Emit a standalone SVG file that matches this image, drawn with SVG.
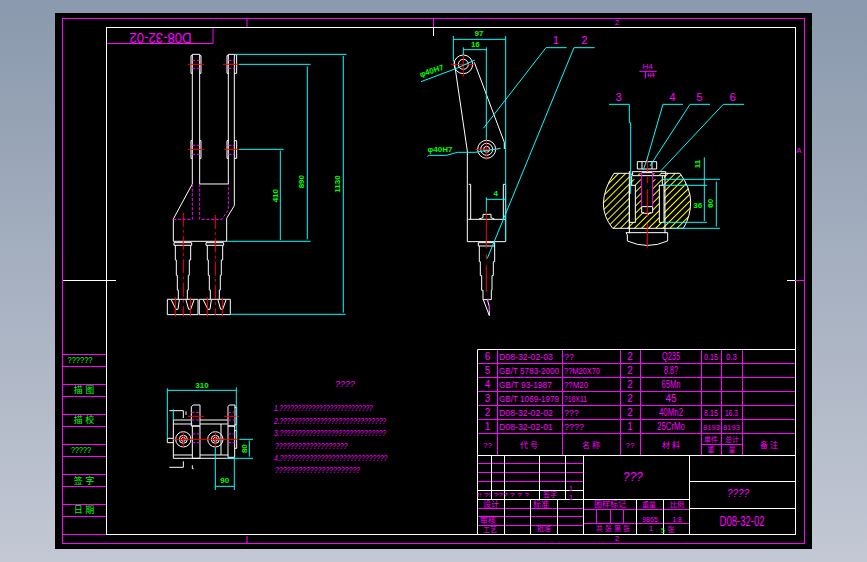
<svg xmlns="http://www.w3.org/2000/svg" width="867" height="562" viewBox="0 0 867 562">
<style>
.w{fill:none;stroke:#fff;stroke-width:1}
.m{fill:none;stroke:#f0f;stroke-width:1}
.zw{fill:none;stroke:#fff;stroke-width:3}
.zm{fill:none;stroke:#f0f;stroke-width:3}
.zd{fill:none;stroke:#f0f;stroke-width:3;stroke-dasharray:9 5}
.zc{fill:none;stroke:#0ff;stroke-width:3}
.zr{fill:none;stroke:#f00;stroke-width:3}
.zrd{fill:none;stroke:#f00;stroke-width:3;stroke-dasharray:42 10 8 10}
.t{font-family:"Liberation Sans","Noto Sans CJK SC",sans-serif;font-size:10px;fill:#f0f;text-anchor:middle}
.s{font-family:"Liberation Sans","Noto Sans CJK SC",sans-serif;font-size:9px;fill:#f0f;text-anchor:start}
.h{font-family:"Liberation Sans","Noto Sans CJK SC",sans-serif;font-size:8px;fill:#f0f;text-anchor:middle}
.g{font-family:"Liberation Sans","Noto Sans CJK SC",sans-serif;font-size:9px;fill:#0f0;text-anchor:middle}
.zt{font-family:"Liberation Sans","Noto Sans CJK SC",sans-serif;font-size:34px;fill:#f0f;text-anchor:middle}
.zg{font-family:"Liberation Sans","Noto Sans CJK SC",sans-serif;font-size:24px;font-weight:bold;fill:#0f0;text-anchor:middle}
.zl{font-family:"Liberation Sans",sans-serif;font-size:25px;font-style:italic;fill:#f0f}
</style>
<defs>
<linearGradient id="bg" x1="0" y1="0" x2="0" y2="1"><stop offset="0" stop-color="#8a99ad"/><stop offset="1" stop-color="#c3c8d4"/></linearGradient>
<pattern id="hatch" width="15" height="15" patternUnits="userSpaceOnUse" patternTransform="rotate(-45)"><rect width="15" height="15" fill="#000"/><rect y="0" width="15" height="3" fill="#ff0"/></pattern>
<g id="pick">
<path class="zw" d="M132 668H185V676H132ZM136 676V720H139V766H142V810H145V838M182 676V720H178V766H175V810H172V838"/>
<path class="zw" d="M124 840L138 868H144L148 840M168 840L176 868H182L192 840"/>
</g>
</defs>
<rect width="867" height="562" fill="url(#bg)"/>
<rect x="55" y="13" width="757" height="536" fill="#000"/>

<g id="frame">
<rect class="m" x="62.5" y="18.5" width="742" height="525"/>
<rect class="w" x="106.5" y="27.5" width="689" height="507"/>
<path class="m" d="M433.5 19V27M247 19V27M247 536V543M787 280.5H804"/>
<path class="w" d="M433.5 28V36M787 280.5H795M63 280.5H116"/>
<path class="m" d="M63 354.5H106M63 366.5H106M63 384.5H106M63 396.5H106M63 414.5H106M63 426.5H106M63 444.5H106M63 456.5H106M63 474.5H106M63 486.5H106M63 504.5H106M63 516.5H106M63 534.5H106"/>
<text class="h" x="617" y="25">2</text>
<text class="h" x="617" y="541">2</text>
<text class="h" x="799" y="153">A</text>
</g>

<g id="side-labels">
<text class="g" x="80" y="363" textLength="25" lengthAdjust="spacingAndGlyphs">??????</text>
<text class="g" x="84" y="393">描 图</text>
<text class="g" x="84" y="423">描 校</text>
<text class="g" x="81" y="453" textLength="20" lengthAdjust="spacingAndGlyphs">?????</text>
<text class="g" x="84" y="484">签 字</text>
<text class="g" x="84" y="513">日 期</text>
</g>

<g id="drawing-code">
<path class="m" d="M213 28V43.500H107"/>
<text transform="rotate(180 160.500 38.500)" x="160.500" y="44" class="t" style="font-size:15px" textLength="62" lengthAdjust="spacingAndGlyphs">D08-32-02</text>
</g>

<g id="front-view" transform="translate(130 20) scale(.3333)">
<path class="zw" d="M187 492V103H209V492M295 492V103H313V557L290 595V664H130V597L187 492M209 492H295"/>
<path class="zw" d="M187 107H183V160H187M209 107H213V160H209M295 107H291V160H295M313 104H320V160H313M187 362H183V415H187M209 362H213V415H209M295 362H291V415H295M313 362H320V415H313"/>
<path class="zd" d="M187 492V598H130M209 492V598H275L295 570V492M187 121H209M187 145H209M295 121H313M295 145H313M187 376H209M187 403H209M295 376H313M295 403H313"/>
<path class="zr" d="M174 133H222M279 133H327M174 388H222M282 388H327"/>
<use href="#pick"/>
<use href="#pick" x="96"/>
<path class="zw" d="M112 838H204V884H112ZM208 838H301V884H208Z"/>
<path class="zrd" d="M160 578V890M256 585V885"/>
<path class="zr" d="M136 832V890M181 832V890M232 832V890M277 832V890"/>
<path class="zc" d="M316 103H650M327 133H542M327 388H461M290 664H542M300 883H647M640 108V878M532 140V658M451 392V660"/>
<text class="zg" transform="rotate(-90 435 527)" x="435" y="535">410</text>
<text class="zg" transform="rotate(-90 515 485)" x="515" y="493">890</text>
<text class="zg" transform="rotate(-90 622 492)" x="622" y="500">1130</text>
</g>

<g id="side-view" transform="translate(410 25) scale(.3333)">
<path class="zw" d="M133 112L172 378V650H287V580M193 112L283 352V372M175 583H287M176 478H182V583M280 583V478H287V580M207 582L219 578V568H243V578L253 582"/>
<circle class="zw" cx="160" cy="118" r="28"/><circle class="zw" cx="160" cy="118" r="15"/>
<circle class="zw" cx="230" cy="373" r="27"/><circle class="zw" cx="230" cy="373" r="18"/><circle class="zw" cx="230" cy="373" r="9"/>
<path class="zw" d="M205 653H254V663H205ZM208 663V710H211V752H215V796H219V824H244V796H246V752H250V710H254V663M220 824L238 872V845L232 824"/>
<path class="zr" d="M123 118H195M160 82V155M196 373H265M229 343V405M229 558V670M229 688V703M229 720V800"/>
<path class="zm" d="M234 820V832M238 840V858"/>
<path class="zc" d="M130 33V110M287 33V650M130 43H287M160 67V90M229 67V345M160 74H229M229 517V560M229 523H285M33 170L140 130L195 105M52 394L58 391H110L142 382H195L272 370M220 310L408 68H470M232 700L492 68H554"/>
<text class="zg" x="207" y="32">97</text>
<text class="zg" x="196" y="65">16</text>
<text class="zg" x="257" y="514">4</text>
<text class="zg" transform="rotate(-18 65 138)" x="65" y="146">φ40H7</text>
<text class="zg" x="90" y="380">φ40H7</text>
<text class="zt" x="438" y="56">1</text>
<text class="zt" x="523" y="56">2</text>
</g>

<g id="section-view" transform="translate(590 60) scale(.3333)">
<path d="M72 340H270Q302 385 302 425Q302 470 280 505H68Q40 470 40 430Q42 385 72 340Z" fill="url(#hatch)"/>
<path class="zw" d="M72 340H118M213 340H270Q302 385 302 425Q302 470 280 505H68Q40 470 40 430Q42 385 72 340"/>
<rect x="118" y="376" width="18" height="111" fill="#000" stroke="#fff" stroke-width="3"/>
<rect x="208" y="376" width="14" height="111" fill="#000" stroke="#fff" stroke-width="3"/>
<rect x="155" y="338" width="33" height="118" fill="#000"/>
<rect x="118" y="345" width="104" height="13" fill="#000"/>
<path class="zw" d="M142 305H200V327H142ZM156 305V327M186 305V327M127 335H227V347H127ZM118 333V520M225 347V520M125 347V375M217 347V376M155 338H188M155 440H188V458L180 460H163L155 458Z"/>
<path class="zm" d="M155 335V440M188 335V440"/>
<path class="zw" d="M108 518H233V543Q172 570 112 543V525Z"/>
<path class="zr" d="M172 290V335M172 350V370M172 388V470M172 490V563"/>
<path class="zc" d="M57 133H118V188H122V402M279 133H219L172 295L160 330M360 133H300L180 318M462 133H400L212 333M343 292V483M217 358H390M217 376H351M217 487H351M247 505H390M379 365V500"/>
<text class="zg" transform="rotate(-90 323 312)" x="323" y="320">11</text>
<text class="zg" x="323" y="444">36</text>
<text class="zg" transform="rotate(-90 361 430)" x="361" y="438">60</text>
<text class="zt" x="86" y="122">3</text>
<text class="zt" x="247" y="122">4</text>
<text class="zt" x="328" y="122">5</text>
<text class="zt" x="428" y="122">6</text>
<path class="zm" d="M148 34H200M166 34V56"/>
<text class="zt" x="173" y="26" style="font-size:24px">H4</text>
<text class="zt" x="183" y="51" style="font-size:16px;font-weight:bold">H4</text>
</g>

<g id="plan-view" transform="translate(150 370) scale(.3333)">
<path class="zw" d="M70 150V265H255M70 150H124M70 162H127M150 150H233M150 162H233M70 255H127M150 255H235M213 162V255"/>
<path class="zw" d="M124 110L130 105H150V168H124ZM127 168H150V265H127ZM234 110L238 105H255V168H234ZM234 168H254V262H234ZM254 112H260V164H254M254 182H260V235H254"/>
<path class="zw" d="M58 122H100V144M108 124V135M52 205V218H70M52 205H70M58 292H100V274M127 286V296H131"/>
<circle class="zw" cx="100" cy="208" r="23"/><circle class="zw" cx="100" cy="208" r="12"/><circle class="zw" cx="100" cy="208" r="6"/>
<circle class="zw" cx="196" cy="208" r="23"/><circle class="zw" cx="196" cy="208" r="12"/><circle class="zw" cx="196" cy="208" r="6"/>
<path class="zd" d="M124 127H150M124 150H150M127 192H150M127 218H150M234 127H254M234 150H254M234 192H254M234 218H254"/>
<path class="zr" d="M114 139H162M222 139H268M70 208H265M100 185V232M196 185V232"/>
<path class="zc" d="M52 55V205M259 52V205M52 61H259M70 118V150M196 232V360M253 262V360M196 349H253M268 208H309M228 265H309M298 212V260"/>
<text class="zg" x="156" y="53">310</text>
<text class="zg" x="224" y="339">90</text>
<text class="zg" transform="rotate(-90 282 236)" x="282" y="244">80</text>
<text class="zl" x="555" y="52" textLength="60" lengthAdjust="spacingAndGlyphs">????</text>
<text class="zl" x="372" y="124" textLength="296" lengthAdjust="spacingAndGlyphs">1.??????????????????????????</text>
<text class="zl" x="372" y="161" textLength="336" lengthAdjust="spacingAndGlyphs">2.?????????????????????????????</text>
<text class="zl" x="372" y="199" textLength="336" lengthAdjust="spacingAndGlyphs">3.?????????????????????????????</text>
<text class="zl" x="375" y="237" textLength="217" lengthAdjust="spacingAndGlyphs">???????????????????</text>
<text class="zl" x="372" y="272" textLength="340" lengthAdjust="spacingAndGlyphs">4.?????????????????????????????</text>
<text class="zl" x="375" y="310" textLength="255" lengthAdjust="spacingAndGlyphs">??????????????????????</text>
</g>

<g id="parts-list">
<path class="w" d="M477.500 349.500H795.500M477.500 349.500V455.500"/>
<path class="m" d="M478 363.500H795M478 377.500H795M478 391.500H795M478 405.500H795M478 419.500H795M478 433.500H795M497.500 350V455M562.500 350V455M620.500 350V455M640.500 350V455M701.500 350V455M721.500 350V455M742.500 350V455M701.500 444.500H742.500"/>
<text class="t" x="487.500" y="360">6</text><text class="s" x="499" y="360" textLength="54" lengthAdjust="spacingAndGlyphs">D08-32-02-03</text><text class="s" x="564" y="360">??</text><text class="t" x="630" y="360">2</text><text class="t" x="671" y="360" textLength="18" lengthAdjust="spacingAndGlyphs">Q235</text><text class="s" x="704" y="360" textLength="14" lengthAdjust="spacingAndGlyphs">0.15</text><text class="s" x="726" y="360" textLength="11" lengthAdjust="spacingAndGlyphs">0.3</text>
<text class="t" x="487.500" y="374">5</text><text class="s" x="499" y="374" textLength="60" lengthAdjust="spacingAndGlyphs">GB/T 5783-2000</text><text class="s" x="564" y="374" textLength="36" lengthAdjust="spacingAndGlyphs">??M20X70</text><text class="t" x="630" y="374">2</text><text class="t" x="671" y="374" textLength="14" lengthAdjust="spacingAndGlyphs">8.8?</text>
<text class="t" x="487.500" y="388">4</text><text class="s" x="499" y="388" textLength="53" lengthAdjust="spacingAndGlyphs">GB/T 93-1987</text><text class="s" x="564" y="388" textLength="24" lengthAdjust="spacingAndGlyphs">??M20</text><text class="t" x="630" y="388">2</text><text class="t" x="671" y="388" textLength="19" lengthAdjust="spacingAndGlyphs">65Mn</text>
<text class="t" x="487.500" y="402">3</text><text class="s" x="499" y="402" textLength="60" lengthAdjust="spacingAndGlyphs">GB/T 1069-1979</text><text class="s" x="564" y="402" textLength="23" lengthAdjust="spacingAndGlyphs">?18X11</text><text class="t" x="630" y="402">2</text><text class="t" x="671" y="402">45</text>
<text class="t" x="487.500" y="416">2</text><text class="s" x="499" y="416" textLength="54" lengthAdjust="spacingAndGlyphs">D08-32-02-02</text><text class="s" x="564" y="416">???</text><text class="t" x="630" y="416">2</text><text class="t" x="671" y="416" textLength="24" lengthAdjust="spacingAndGlyphs">40Mn2</text><text class="s" x="704" y="416" textLength="14" lengthAdjust="spacingAndGlyphs">8.15</text><text class="s" x="725" y="416" textLength="13" lengthAdjust="spacingAndGlyphs">16.3</text>
<text class="t" x="487.500" y="430">1</text><text class="s" x="499" y="430" textLength="54" lengthAdjust="spacingAndGlyphs">D08-32-02-01</text><text class="s" x="564" y="430">????</text><text class="t" x="630" y="430">1</text><text class="t" x="671" y="430" textLength="28" lengthAdjust="spacingAndGlyphs">25CrMo</text><text class="s" x="703" y="430" style="font-size:8px" textLength="17" lengthAdjust="spacingAndGlyphs">8193</text><text class="s" x="723" y="430" style="font-size:8px" textLength="17" lengthAdjust="spacingAndGlyphs">8193</text>
<text class="h" x="487.500" y="448">??</text><text class="h" x="529" y="448">代   号</text><text class="h" x="591" y="448">名   称</text><text class="h" x="630" y="448">??</text><text class="h" x="671" y="448">材   料</text><text class="h" x="711" y="442" style="font-size:7px">单件</text><text class="h" x="732" y="442" style="font-size:7px">总计</text><text class="h" x="711" y="452" style="font-size:7px">重</text><text class="h" x="732" y="452" style="font-size:7px">量</text><text class="h" x="769" y="448">备   注</text>
</g>

<g id="title-block">
<path class="m" d="M478 463.500H583M478 472.500H583M478 481.500H583M478 508.500H583M478 516.500H583M478 525.500H583M584 509.500H689M584 523.500H689M596.500 510V523M610.500 510V523M623.500 510V523"/>
<path class="w" d="M477.500 455.500H795.500M477.500 455.500V534M491.500 456V499M504.500 456V534M539.500 456V499M530.500 499V534M557.500 499V534M565.500 456V499M583.500 456V534M689.500 456V534M636.500 499V534M663.500 499V534M477.500 490.500H583M477.500 499.500H689M689.500 481.500H796M689.500 508.500H796"/>
<text class="t" x="633" y="481" style="font-size:12px;font-style:italic">???</text>
<text class="t" x="738" y="497" style="font-size:10px;font-style:italic">????</text>
<text class="t" x="742" y="526" style="font-size:14px" textLength="45" lengthAdjust="spacingAndGlyphs">D08-32-02</text>
<text class="t" x="503" y="497" style="font-size:6px" textLength="52" lengthAdjust="spacingAndGlyphs">!! ?! ??? ? ? ?</text>
<text class="t" x="550" y="497" style="font-size:7px">签字</text>
<text class="t" x="491" y="507" style="font-size:8px">设计</text>
<text class="t" x="541" y="507" style="font-size:8px">标准</text>
<text class="t" x="610" y="507" style="font-size:8px">图样标记</text>
<text class="t" x="649" y="507" style="font-size:7px">重量</text>
<text class="t" x="677" y="507" style="font-size:7px">比例</text>
<text class="t" x="488" y="523" style="font-size:8px">审核</text>
<text class="t" x="490" y="532" style="font-size:7px">工艺</text>
<text class="t" x="544" y="531" style="font-size:7px">批准</text>
<text class="t" x="613" y="531" style="font-size:7px">共 张 第 张</text>
<text class="t" x="650" y="522" style="font-size:7px">9865</text>
<text class="t" x="677" y="522" style="font-size:7px">1:8</text>
<text class="t" x="651" y="531" style="font-size:7px">1</text>
<text class="g" x="663" y="533" style="font-size:7px">5</text>
<text class="t" x="671" y="532" style="font-size:7px">张</text>
<text class="t" x="571" y="491" style="font-size:7px">1</text>
<text class="t" x="571" y="500" style="font-size:7px">1</text>
</g>
</svg>
